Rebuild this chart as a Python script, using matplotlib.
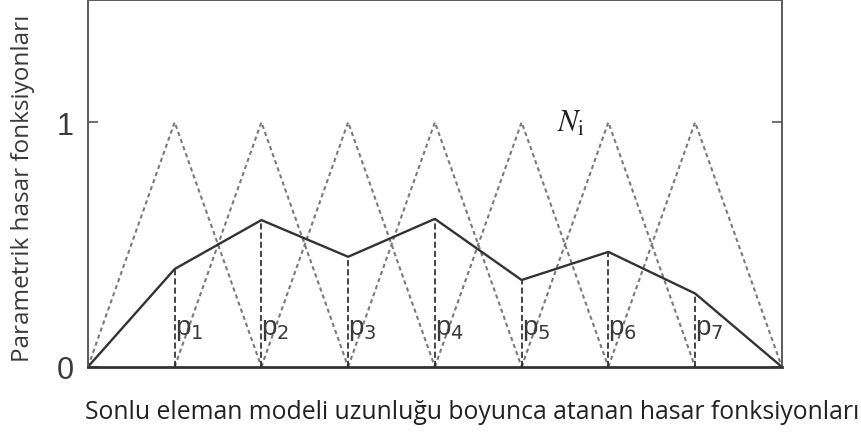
import matplotlib
matplotlib.use("Agg")
import matplotlib.pyplot as plt
import numpy as np

# node positions along the element model (0 .. 8) and parametric damage values
nodes = [0, 1, 2, 3, 4, 5, 6, 7, 8]
damage = [0.0, 0.40, 0.60, 0.45, 0.605, 0.355, 0.47, 0.30, 0.0]
p_labels = ["p$_1$", "p$_2$", "p$_3$", "p$_4$", "p$_5$", "p$_6$", "p$_7$"]
y_ticks = [0, 1]
y_ticklabels = ["0", "1"]

txt = "#3a3a3a"

fig = plt.figure(figsize=(8.62, 4.39), dpi=100)
ax = fig.add_axes([0.102, 0.162, 0.805, 0.836])

# hat (shape) functions N_i, one per interior node
for i in nodes[1:-1]:
    ax.plot([nodes[i - 1], nodes[i], nodes[i + 1]], [0, 1, 0],
            color="#7a7a7a", lw=1.5, linestyle=(0, (2, 1.6)))

# dashed verticals from the axis up to each nodal value
for i in nodes[1:-1]:
    ax.plot([nodes[i], nodes[i]], [0, damage[i]],
            color="#111111", lw=1.1, linestyle=(0, (4, 2)))

# interpolated damage function
ax.plot(nodes, damage, color="#333333", lw=1.7)

for i, lab in zip(nodes[1:-1], p_labels):
    ax.text(nodes[i] + 0.0, 0.155, lab, fontsize=20, color=txt,
            ha="left", va="center", family="Liberation Sans")

ax.text(5.57, 1.0, r"$N_\mathrm{i}$", fontsize=22, color="#222222",
        ha="center", va="center", math_fontfamily="stix")

ax.set_xlim(0, 8)
ax.set_ylim(0, 1.5)
ax.set_xticks([])
ax.set_yticks(y_ticks)
ax.set_yticklabels(y_ticklabels, fontsize=22, color=txt, family="Liberation Sans")
ax.tick_params(axis="y", direction="in", length=7, width=1.2, color="#555555",
               right=True, pad=10)

for s in ax.spines.values():
    s.set_color("#5a5a5a")
    s.set_linewidth(1.4)
ax.spines["bottom"].set_color("#333333")
ax.spines["bottom"].set_linewidth(2.0)

fig.text(0.027, 0.57, "Parametrik hasar fonksiyonları", rotation=90,
         fontsize=17.5, color=txt, ha="center", va="center", family="Open Sans")
fig.text(0.099, 0.06, "Sonlu eleman modeli uzunluğu boyunca atanan hasar fonksiyonları",
         fontsize=17.8, color="#222222", ha="left", va="center", family="Open Sans")

fig.savefig("out.png", dpi=100)
